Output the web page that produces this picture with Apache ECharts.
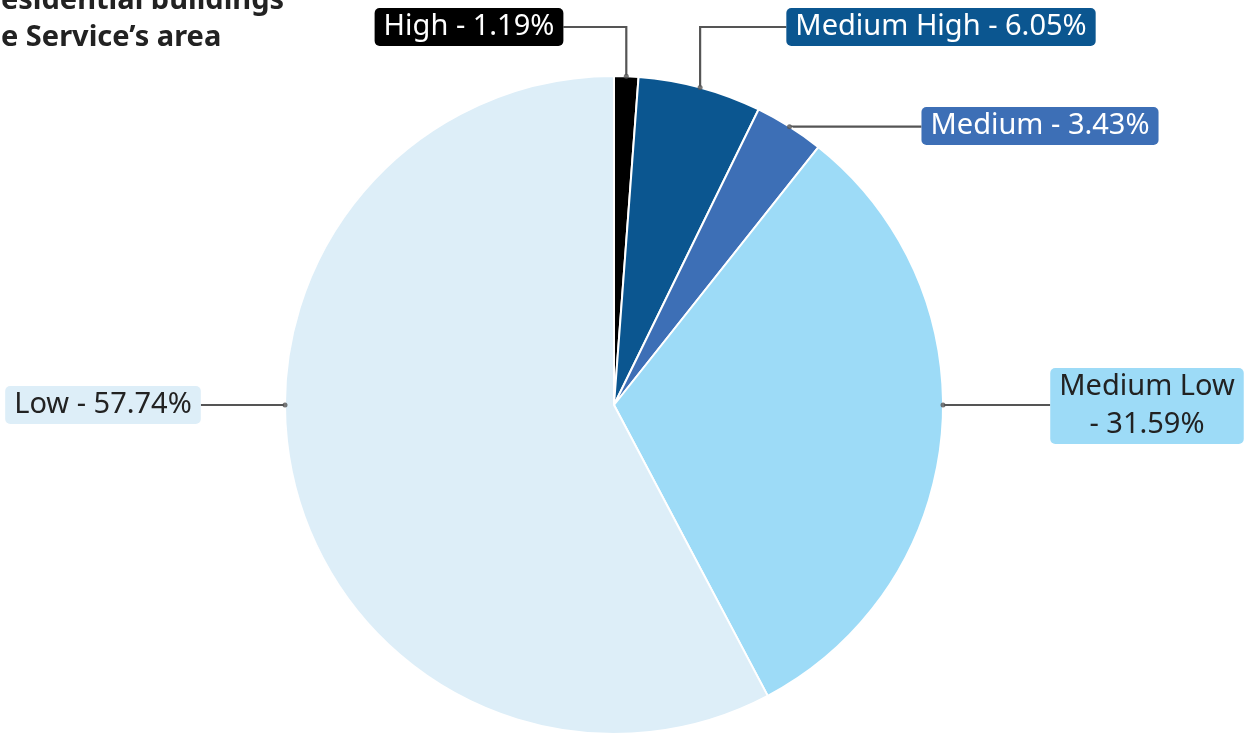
<!DOCTYPE html>
<html>
<head>
<meta charset="utf-8">
<script src="https://cdn.jsdelivr.net/npm/echarts@6/dist/echarts.min.js"></script>
<style>
  html, body { margin: 0; padding: 0; background: #ffffff; }
  #chart { width: 1254px; height: 736px; }
</style>
</head>
<body>
<div id="chart"></div>
<script>
// ---- data ----
const categories = ['High', 'Medium High', 'Medium', 'Medium Low', 'Low'];
const shares = [1.19, 6.05, 3.43, 31.59, 57.74];
const titleLines = ['esidential buildings', 'e Service\u2019s area'];

// ---- style ----
const sliceColors = ['#000000', '#0b5690', '#3d6fb6', '#9ddbf7', '#ddeef8'];
const labelTextColors = ['#ffffff', '#ffffff', '#ffffff', '#222222', '#222222'];
const wrapLabel = [false, false, false, true, false];
const CX = 614, CY = 405, R = 329;
// label box centres (layout)
const labelBoxCenters = [[469, 27], [941, 27], [1040, 126], [1147, 406], [103, 405]];

// anchor angle: side anchor if slice spans 90 or 270 degrees, otherwise midpoint
const total = shares.reduce((a, b) => a + b, 0);
const anchorAngles = [];
let acc = 0;
shares.forEach(v => {
  const a0 = acc / total * 360, a1 = (acc + v) / total * 360;
  let a = (a0 + a1) / 2;
  if (a0 <= 90 && a1 >= 90) a = 90;
  else if (a0 <= 270 && a1 >= 270) a = 270;
  anchorAngles.push(a);
  acc += v;
});
function anchorPoint(i) {
  const t = anchorAngles[i] * Math.PI / 180;
  return [CX + R * Math.sin(t), CY - R * Math.cos(t)];
}

const chart = echarts.init(document.getElementById('chart'), null, { renderer: 'canvas' });

const labelFont = { fontFamily: 'Noto Sans', fontSize: 29, lineHeight: 38 };

const pieData = categories.map((c, i) => ({
  name: c,
  value: shares[i],
  itemStyle: { color: sliceColors[i] },
  label: {
    backgroundColor: sliceColors[i],
    color: labelTextColors[i],
    rich: {
      c: Object.assign({ color: labelTextColors[i], align: 'center' }, labelFont)
    }
  }
}));

const option = {
  animation: false,
  backgroundColor: '#ffffff',
  title: {
    text: titleLines.join('\n'),
    left: -4,
    top: -23,
    textStyle: {
      fontFamily: 'Noto Sans',
      fontWeight: 'bold',
      fontSize: 29,
      lineHeight: 37,
      color: '#222222'
    }
  },
  polar: { center: [CX, CY], radius: R },
  angleAxis: { type: 'value', min: 0, max: 360, startAngle: 90, clockwise: true, show: false },
  radiusAxis: { type: 'value', min: 0, max: 1, show: false },
  series: [
    {
      type: 'pie',
      center: [CX, CY],
      radius: R,
      startAngle: 90,
      clockwise: true,
      avoidLabelOverlap: false,
      itemStyle: { borderColor: '#ffffff', borderWidth: 2 },
      label: Object.assign({
        show: true,
        position: 'outside',
        formatter: p => {
          const i = p.dataIndex;
          const txt = p.value.toFixed(2) + '%';
          return wrapLabel[i]
            ? '{c|' + p.name + '}\n{c|- ' + txt + '}'
            : '{c|' + p.name + ' - ' + txt + '}';
        },
        padding: [0, 9, 0, 9],
        borderRadius: 5
      }, labelFont),
      labelLine: { show: true, lineStyle: { color: '#555555', width: 2.2 }, length: 30, length2: 30 },
      labelLayout: function (params) {
        const i = params.dataIndex;
        const c = labelBoxCenters[i];
        const w = params.labelRect.width, h = params.labelRect.height;
        let x = c[0], y = c[1];
        if (params.align === 'left') x = c[0] - w / 2;
        else if (params.align === 'right') x = c[0] + w / 2;
        if (params.verticalAlign === 'top') y = c[1] - h / 2;
        else if (params.verticalAlign === 'bottom') y = c[1] + h / 2;
        const a = anchorPoint(i);
        let pts;
        if (anchorAngles[i] === 90 || anchorAngles[i] === 270) {
          const edge = anchorAngles[i] === 90 ? c[0] - w / 2 : c[0] + w / 2;
          pts = [a, [(a[0] + edge) / 2, a[1]], [edge, a[1]]];
        } else if (c[1] < a[1] - 40) {
          const edge = c[0] < a[0] ? c[0] + w / 2 : c[0] - w / 2;
          pts = [a, [a[0], c[1]], [edge, c[1]]];
        } else {
          const edge = c[0] - w / 2;
          pts = [a, [(a[0] + edge) / 2, a[1]], [edge, a[1]]];
        }
        return { x: x, y: y, labelLinePoints: pts };
      },
      data: pieData,
      z: 2
    },
    {
      type: 'scatter',
      coordinateSystem: 'polar',
      symbol: 'circle',
      symbolSize: 5,
      itemStyle: { color: '#555555' },
      silent: true,
      data: anchorAngles.map(a => [1, a]),
      z: 5
    }
  ]
};
chart.setOption(option);
</script>
</body>
</html>
